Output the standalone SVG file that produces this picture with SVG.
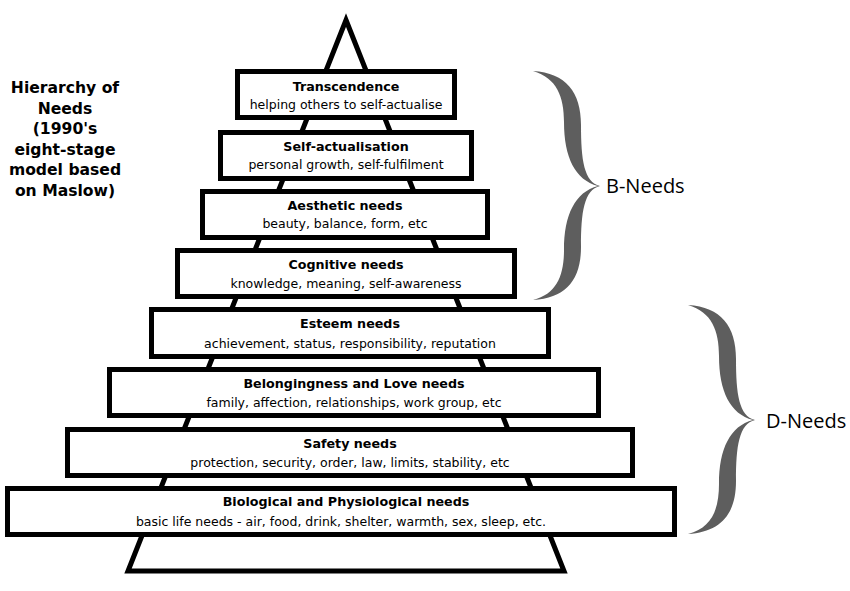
<svg xmlns="http://www.w3.org/2000/svg" width="850" height="591" viewBox="0 0 850 591">
<defs>
<style>
.box{fill:#fff;stroke:#000;stroke-width:5}
.t{font-family:"DejaVu Sans",Verdana,sans-serif;font-weight:bold;font-size:12.7px;fill:#000;text-anchor:middle}
.s{font-family:"DejaVu Sans",Verdana,sans-serif;font-size:12.5px;fill:#000;text-anchor:middle}
.h{font-family:"DejaVu Sans",Verdana,sans-serif;font-weight:bold;font-size:15.6px;fill:#000;text-anchor:middle}
.lbl{font-family:"Open Sans","Liberation Sans",sans-serif;font-size:20px;fill:#000}
.brace{fill:#5e5e5e}
</style>
<path id="braceShape" d="M533,71 C566,73 581,92 581,125 C581,160 584,182 600,186 C584,190 581,212 581,247 C581,280 566,298 533,300 C557,294 564,275 564,250 C564,215 575,192 598,186 C575,180 564,157 564,122 C564,97 557,78 533,71 Z"/>
</defs>
<rect width="850" height="591" fill="#fff"/>

<g id="pyramid">
<polygon points="346,20 564,571 128,571" fill="#fff" stroke="#000" stroke-width="5" stroke-linejoin="miter" stroke-miterlimit="10"/>
</g>

<g id="title">
<text class="h" x="65" y="93">Hierarchy of</text>
<text class="h" x="65" y="114">Needs</text>
<text class="h" x="65" y="134">(1990's</text>
<text class="h" x="65" y="155">eight-stage</text>
<text class="h" x="65" y="175">model based</text>
<text class="h" x="65" y="196">on Maslow)</text>
</g>

<g id="transcendence">
<rect class="box" x="237.5" y="71.5" width="217" height="46"/>
<text class="t" x="346" y="91">Transcendence</text>
<text class="s" x="346" y="109">helping others to self-actualise</text>
</g>
<g id="self-actualisation">
<rect class="box" x="220.5" y="132.5" width="251" height="46"/>
<text class="t" x="346" y="151">Self-actualisation</text>
<text class="s" x="346" y="169">personal growth, self-fulfilment</text>
</g>
<g id="aesthetic">
<rect class="box" x="202.5" y="191.5" width="285" height="46"/>
<text class="t" x="345" y="210">Aesthetic needs</text>
<text class="s" x="345" y="228">beauty, balance, form, etc</text>
</g>
<g id="cognitive">
<rect class="box" x="177.5" y="250.5" width="337" height="46"/>
<text class="t" x="346" y="269">Cognitive needs</text>
<text class="s" x="346" y="288">knowledge, meaning, self-awareness</text>
</g>
<g id="esteem">
<rect class="box" x="151.5" y="309.5" width="397" height="47"/>
<text class="t" x="350" y="328">Esteem needs</text>
<text class="s" x="350" y="348">achievement, status, responsibility, reputation</text>
</g>
<g id="belongingness">
<rect class="box" x="109.5" y="369.5" width="489" height="46"/>
<text class="t" x="354" y="388">Belongingness and Love needs</text>
<text class="s" x="354" y="407">family, affection, relationships, work group, etc</text>
</g>
<g id="safety">
<rect class="box" x="67.5" y="429.5" width="565" height="46"/>
<text class="t" x="350" y="448">Safety needs</text>
<text class="s" x="350" y="467">protection, security, order, law, limits, stability, etc</text>
</g>
<g id="biological">
<rect class="box" x="7.5" y="488.5" width="667" height="46"/>
<text class="t" x="346" y="506">Biological and Physiological needs</text>
<text class="s" x="341" y="526">basic life needs - air, food, drink, shelter, warmth, sex, sleep, etc.</text>
</g>

<g id="connectors">
<g id="b-brace"><use href="#braceShape" class="brace"/></g>
<g id="d-brace"><use href="#braceShape" class="brace" transform="translate(155,234)"/></g>
</g>

<g id="b-needs"><text class="lbl" x="606" y="193">B-Needs</text></g>
<g id="d-needs"><text class="lbl" x="766" y="428">D-Needs</text></g>
</svg>
